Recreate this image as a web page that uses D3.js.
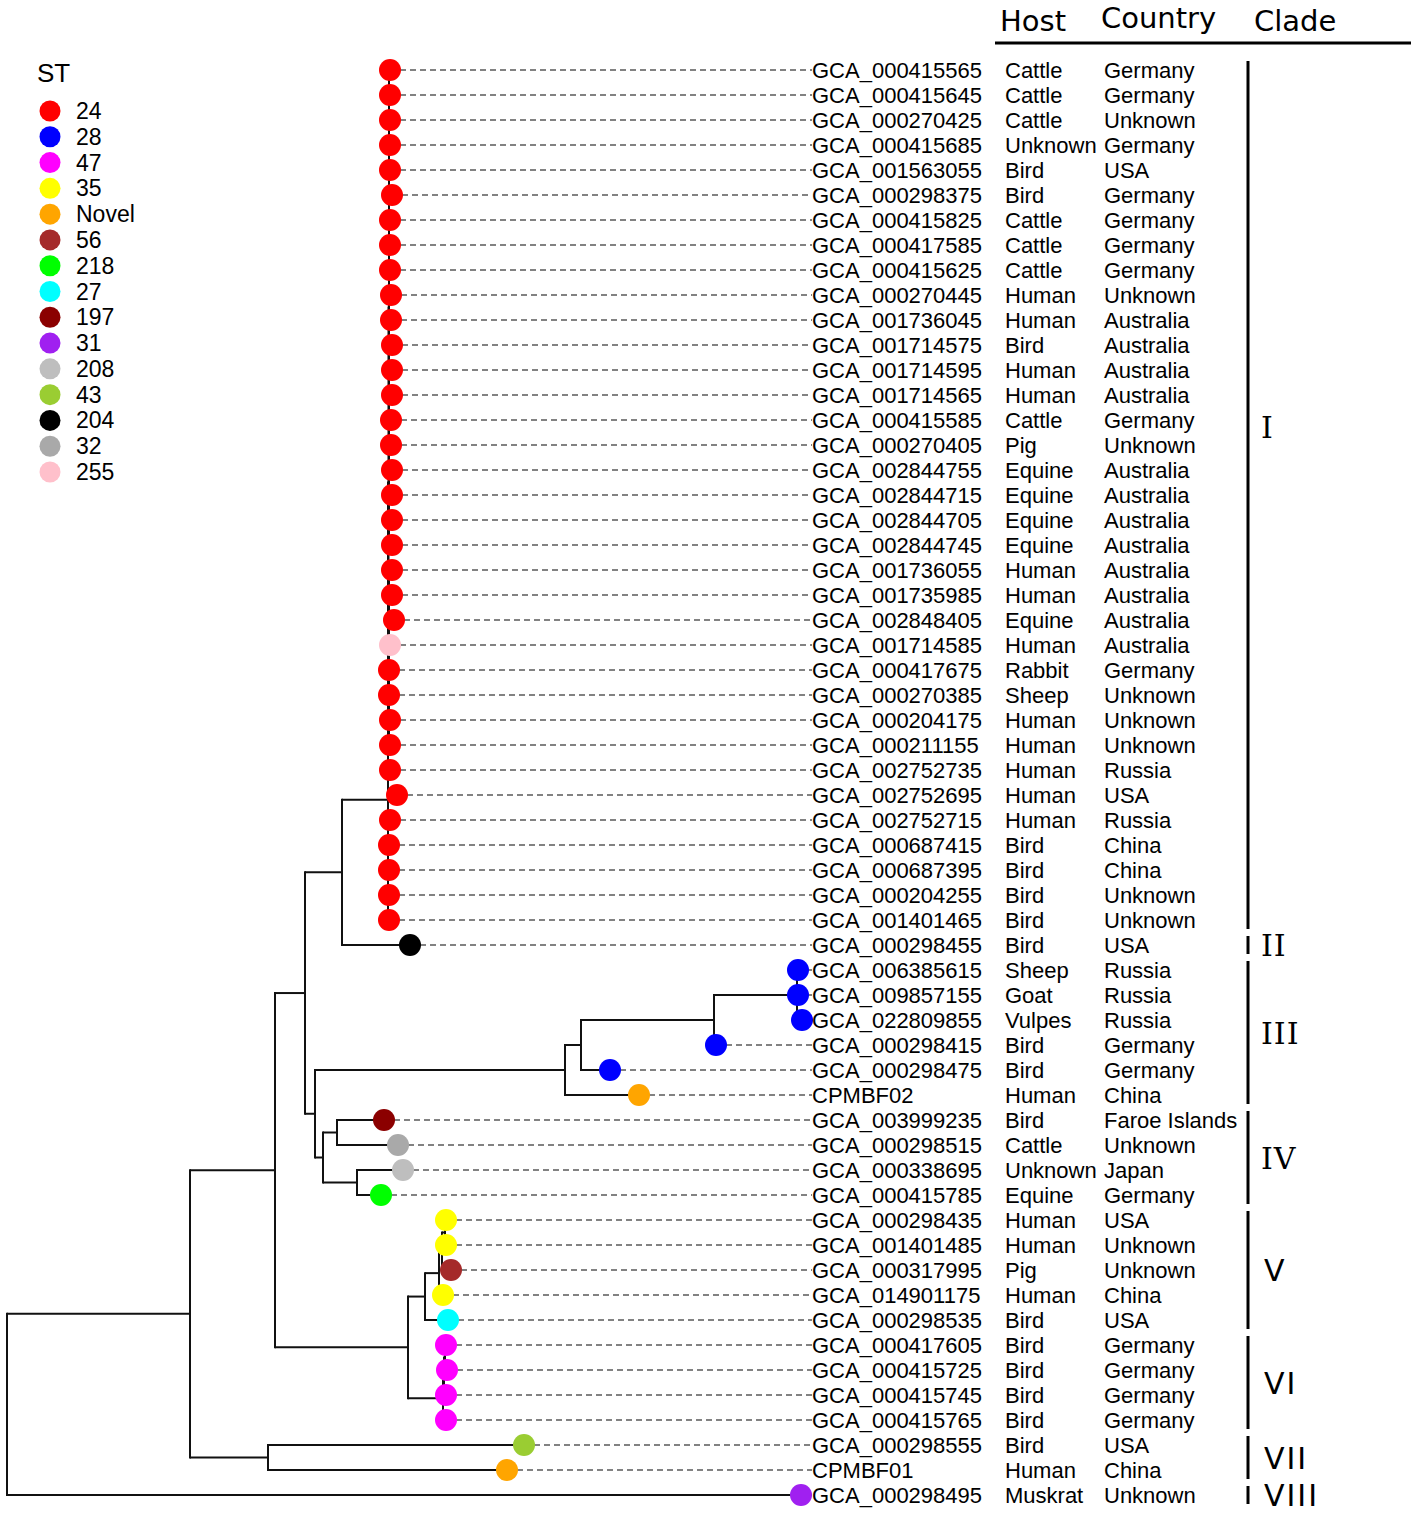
<!DOCTYPE html>
<html>
<head>
<meta charset="utf-8">
<script src="https://cdn.jsdelivr.net/npm/d3@7"></script>
<style>
  html, body { margin: 0; padding: 0; background: #fff; }
  svg { display: block; }
</style>
</head>
<body>
<script>
// ---------------- DATA ----------------
// Tree topology with branch lengths (Newick)
const newick =
  "(((((((" +
  "(GCA_000415565:0.001,GCA_000415645:0.001,GCA_000270425:0.001,GCA_000415685:0.001,GCA_001563055:0.001," +
  "GCA_000298375:0.003,GCA_000415825:0.001,GCA_000417585:0.001,GCA_000415625:0.001,GCA_000270445:0.002," +
  "GCA_001736045:0.002,GCA_001714575:0.003,GCA_001714595:0.003,GCA_001714565:0.003,GCA_000415585:0.002," +
  "GCA_000270405:0.002,GCA_002844755:0.003,GCA_002844715:0.003,GCA_002844705:0.003,GCA_002844745:0.003):0.0005," +
  "(GCA_001736055:0.003,GCA_001735985:0.003,GCA_002848405:0.005,GCA_001714585:0.001,GCA_000417675:0.0," +
  "GCA_000270385:0.0,GCA_000204175:0.001,GCA_000211155:0.001):0.0005):0.0005," +
  "GCA_002752735:0.002,GCA_002752695:0.009,GCA_002752715:0.002,GCA_000687415:0.001,GCA_000687395:0.001," +
  "GCA_000204255:0.001,GCA_001401465:0.001):0.046," +
  "GCA_000298455:0.068):0.037," +
  "(((((GCA_006385615:0.001,GCA_009857155:0.001,GCA_022809855:0.005):0.083,GCA_000298415:0.002):0.133," +
  "GCA_000298475:0.029):0.016,CPMBF02:0.074):0.250," +
  "((GCA_003999235:0.047,GCA_000298515:0.061):0.014,(GCA_000338695:0.046,GCA_000415785:0.024):0.034):0.008):0.010):0.030," +
  "(((((GCA_000298435:0.001,GCA_001401485:0.001):0.003,GCA_000317995:0.009):0.003,GCA_014901175:0.004):0.014," +
  "GCA_000298535:0.023):0.017," +
  "(((GCA_000417605:0.001,GCA_000415725:0.002):0.001,GCA_000415745:0.002):0.001,GCA_000415765:0.003):0.035):0.133):0.085," +
  "(GCA_000298555:0.256,CPMBF01:0.239):0.078):0.183," +
  "GCA_000298495:0.794);";

const tipIds = [
  "GCA_000415565","GCA_000415645","GCA_000270425","GCA_000415685","GCA_001563055","GCA_000298375",
  "GCA_000415825","GCA_000417585","GCA_000415625","GCA_000270445","GCA_001736045","GCA_001714575",
  "GCA_001714595","GCA_001714565","GCA_000415585","GCA_000270405","GCA_002844755","GCA_002844715",
  "GCA_002844705","GCA_002844745","GCA_001736055","GCA_001735985","GCA_002848405","GCA_001714585",
  "GCA_000417675","GCA_000270385","GCA_000204175","GCA_000211155","GCA_002752735","GCA_002752695",
  "GCA_002752715","GCA_000687415","GCA_000687395","GCA_000204255","GCA_001401465","GCA_000298455",
  "GCA_006385615","GCA_009857155","GCA_022809855","GCA_000298415","GCA_000298475","CPMBF02",
  "GCA_003999235","GCA_000298515","GCA_000338695","GCA_000415785","GCA_000298435","GCA_001401485",
  "GCA_000317995","GCA_014901175","GCA_000298535","GCA_000417605","GCA_000415725","GCA_000415745",
  "GCA_000415765","GCA_000298555","CPMBF01","GCA_000298495"
];

const hosts = [
  "Cattle","Cattle","Cattle","Unknown","Bird","Bird","Cattle","Cattle","Cattle","Human","Human","Bird",
  "Human","Human","Cattle","Pig","Equine","Equine","Equine","Equine","Human","Human","Equine","Human",
  "Rabbit","Sheep","Human","Human","Human","Human","Human","Bird","Bird","Bird","Bird","Bird",
  "Sheep","Goat","Vulpes","Bird","Bird","Human","Bird","Cattle","Unknown","Equine","Human","Human",
  "Pig","Human","Bird","Bird","Bird","Bird","Bird","Bird","Human","Muskrat"
];

const countries = [
  "Germany","Germany","Unknown","Germany","USA","Germany","Germany","Germany","Germany","Unknown",
  "Australia","Australia","Australia","Australia","Germany","Unknown","Australia","Australia","Australia",
  "Australia","Australia","Australia","Australia","Australia","Germany","Unknown","Unknown","Unknown",
  "Russia","USA","Russia","China","China","Unknown","Unknown","USA","Russia","Russia","Russia","Germany",
  "Germany","China","Faroe Islands","Unknown","Japan","Germany","USA","Unknown","Unknown","China","USA",
  "Germany","Germany","Germany","Germany","USA","China","Unknown"
];

const tipST = [
  "24","24","24","24","24","24","24","24","24","24","24","24","24","24","24","24","24","24","24","24",
  "24","24","24","255","24","24","24","24","24","24","24","24","24","24","24",
  "204",
  "28","28","28","28","28","Novel",
  "197","32","208","218",
  "35","35","56","35","27",
  "47","47","47","47",
  "43","Novel",
  "31"
];

const stLevels = ["24","28","47","35","Novel","56","218","27","197","31","208","43","204","32","255"];
const stColors = ["#ff0000","#0000ff","#ff00ff","#ffff00","#ffa500","#a52a2a","#00ff00","#00ffff",
                  "#8b0000","#a020f0","#bebebe","#9acd32","#000000","#a9a9a9","#ffc0cb"];

const cladeNames  = ["I","II","III","IV","V","VI","VII","VIII"];
const cladeSizes  = [35, 1, 6, 4, 5, 4, 2, 1];

const columnHeaders = ["Host","Country","Clade"];

// ---------------- NEWICK PARSER ----------------
function parseNewick(s) {
  const ancestors = [];
  let tree = {};
  const tokens = s.split(/\s*(;|\(|\)|,|:)\s*/);
  for (let i = 0; i < tokens.length; i++) {
    const token = tokens[i];
    switch (token) {
      case "(": { const sub = {}; tree.children = [sub]; ancestors.push(tree); tree = sub; break; }
      case ",": { const sub = {}; ancestors[ancestors.length - 1].children.push(sub); tree = sub; break; }
      case ")": tree = ancestors.pop(); break;
      case ":": break;
      default: {
        const x = tokens[i - 1];
        if (x === ")" || x === "(" || x === ",") tree.name = token;
        else if (x === ":") tree.length = parseFloat(token);
      }
    }
  }
  return tree;
}

// ---------------- LAYOUT ----------------
const W = 1418, H = 1516;
const svg = d3.select("body").append("svg").attr("width", W).attr("height", H);

const root = d3.hierarchy(parseNewick(newick), d => d.children);
root.eachBefore(n => { n.dist = n.parent ? n.parent.dist + (n.data.length || 0) : 0; });

const leaves = root.leaves();
const xScale = d3.scaleLinear().domain([0, 0.8]).range([7, 807]);
const yScale = d3.scaleLinear().domain([0, tipIds.length - 1]).range([70, 1495]);
const stColor = d3.scaleOrdinal().domain(stLevels).range(stColors);

leaves.forEach(l => { l.row = tipIds.indexOf(l.data.name); });
root.eachAfter(n => {
  if (!n.children) n.y = yScale(n.row);
  else n.y = d3.mean(n.children, c => c.y);
  n.x = xScale(n.dist);
});

const labelX = 812;
const hostX = 1005;
const countryX = 1104;
const gTree = svg.append("g");

// leader dashed lines
gTree.selectAll("line.leader").data(leaves).join("line")
  .attr("class", "leader")
  .attr("x1", d => d.x).attr("x2", labelX)
  .attr("y1", d => d.y).attr("y2", d => d.y)
  .attr("stroke", "#5a5a5a").attr("stroke-width", 1.5)
  .attr("stroke-dasharray", "6,4");

// horizontal branches
gTree.selectAll("line.hbr").data(root.descendants().filter(d => d.parent)).join("line")
  .attr("class", "hbr")
  .attr("x1", d => d.parent.x).attr("x2", d => d.x)
  .attr("y1", d => d.y).attr("y2", d => d.y)
  .attr("stroke", "#111").attr("stroke-width", 2);

// vertical connectors
gTree.selectAll("line.vbr").data(root.descendants().filter(d => d.children)).join("line")
  .attr("class", "vbr")
  .attr("x1", d => d.x).attr("x2", d => d.x)
  .attr("y1", d => d3.min(d.children, c => c.y)).attr("y2", d => d3.max(d.children, c => c.y))
  .attr("stroke", "#111").attr("stroke-width", 2).attr("stroke-linecap", "square");

// tip points
gTree.selectAll("circle.tip").data(leaves).join("circle")
  .attr("class", "tip")
  .attr("cx", d => d.x).attr("cy", d => d.y).attr("r", 11)
  .attr("fill", d => stColor(tipST[d.row]));

// tip labels
const tipFont = "'Liberation Sans', Arial, sans-serif";
const gText = svg.append("g").attr("font-family", tipFont).attr("font-size", 22).attr("fill", "#000");
gText.selectAll("text.id").data(tipIds).join("text")
  .attr("x", labelX).attr("y", (d, i) => yScale(i) + 8).text(d => d);
gText.selectAll("text.host").data(hosts).join("text")
  .attr("x", hostX).attr("y", (d, i) => yScale(i) + 8).text(d => d);
gText.selectAll("text.country").data(countries).join("text")
  .attr("x", countryX).attr("y", (d, i) => yScale(i) + 8).text(d => d);

// header
const headerX = [1000, 1101, 1254];
const headerY = [31, 28, 31];
svg.append("g").attr("font-family", "'DejaVu Sans', Verdana, sans-serif").attr("font-size", 29)
  .selectAll("text").data(columnHeaders).join("text")
  .attr("x", (d, i) => headerX[i]).attr("y", (d, i) => headerY[i]).text(d => d);
svg.append("line").attr("x1", 995).attr("x2", 1411).attr("y1", 43).attr("y2", 43)
  .attr("stroke", "#000").attr("stroke-width", 3);

// clade bars
let start = 0;
const cladeData = cladeNames.map((name, i) => {
  const c = { name, first: start, last: start + cladeSizes[i] - 1 };
  start += cladeSizes[i];
  return c;
});
// label row: middle of clade (the large first clade label sits a bit higher)
const labelRow = d => d.last - d.first > 20 ? d.first + (d.last - d.first) * 0.42 : (d.first + d.last) / 2;
const isSans = d => d.name.startsWith("V");
const gClade = svg.append("g");
gClade.selectAll("line").data(cladeData).join("line")
  .attr("x1", 1248).attr("x2", 1248)
  .attr("y1", d => yScale(d.first) - 9).attr("y2", d => yScale(d.last) + 9)
  .attr("stroke", "#000").attr("stroke-width", 3);
gClade.selectAll("text").data(cladeData).join("text")
  .attr("x", d => isSans(d) ? 1264 : 1261)
  .attr("y", d => yScale(labelRow(d)) + 11)
  .attr("font-family", d => isSans(d) ? "'DejaVu Sans', sans-serif" : "'DejaVu Serif', serif")
  .attr("font-size", d => isSans(d) ? 30 : 30)
  .attr("letter-spacing", d => isSans(d) ? 2 : 1)
  .text(d => d.name);

// legend
const legY = d3.scaleLinear().domain([0, stLevels.length - 1]).range([111, 472]);
const gLeg = svg.append("g").attr("font-family", tipFont);
gLeg.append("text").attr("x", 37).attr("y", 82).attr("font-size", 26).text("ST");
gLeg.selectAll("circle").data(stLevels).join("circle")
  .attr("cx", 50).attr("cy", (d, i) => legY(i)).attr("r", 10.5).attr("fill", d => stColor(d));
gLeg.selectAll("text.lab").data(stLevels).join("text")
  .attr("class", "lab")
  .attr("x", 76).attr("y", (d, i) => legY(i) + 8).attr("font-size", 23).text(d => d);
</script>
</body>
</html>
